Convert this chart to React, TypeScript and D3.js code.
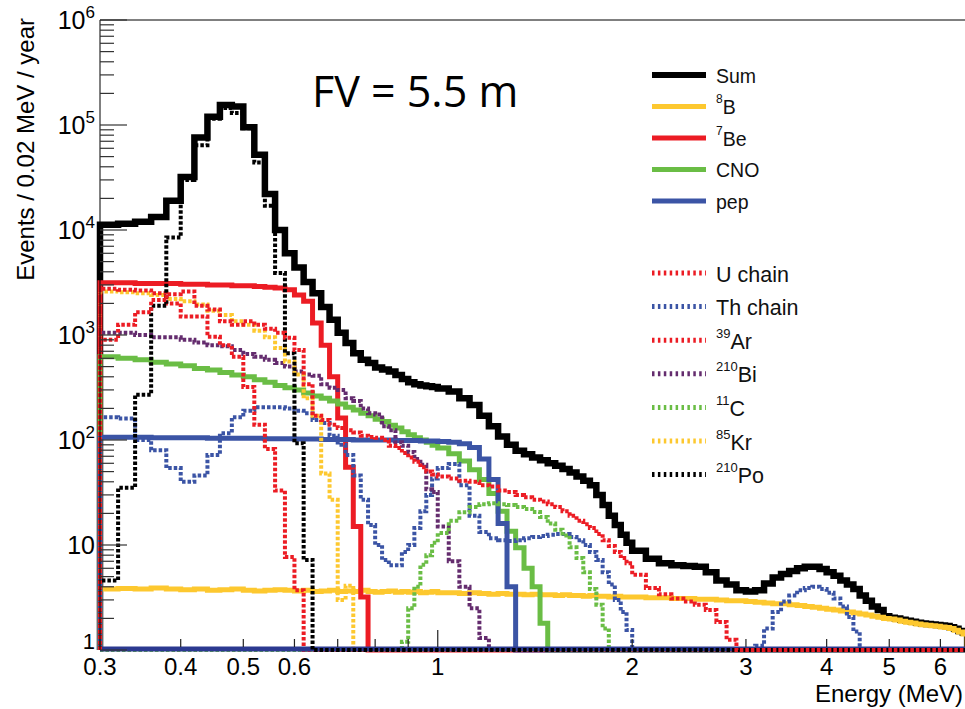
import React from "react";
import * as d3 from "d3";

const W = 965;
const H = 709;

// Histogram bin edges (MeV): 0.02 MeV bins below 1 MeV, 0.04 MeV up to 2 MeV, 0.1 MeV above
const BIN_EDGES = [
  0.30, 0.32, 0.34, 0.36, 0.38, 0.40, 0.42, 0.44, 0.46, 0.48, 0.50, 0.52, 0.54, 0.56, 0.58, 0.60, 0.62, 0.64, 0.66, 0.68,
  0.70, 0.72, 0.74, 0.76, 0.78, 0.80, 0.82, 0.84, 0.86, 0.88, 0.90, 0.92, 0.94, 0.96, 0.98,
  1.00, 1.04, 1.08, 1.12, 1.16, 1.20, 1.24, 1.28, 1.32, 1.36, 1.40, 1.44, 1.48, 1.52, 1.56, 1.60, 1.64, 1.68, 1.72, 1.76,
  1.80, 1.84, 1.88, 1.92, 1.96,
  2.0, 2.1, 2.2, 2.3, 2.4, 2.5, 2.6, 2.7, 2.8, 2.9, 3.0, 3.1, 3.2, 3.3, 3.4, 3.5, 3.6, 3.7, 3.8, 3.9, 4.0, 4.1, 4.2, 4.3,
  4.4, 4.5, 4.6, 4.7, 4.8, 4.9, 5.0, 5.1, 5.2, 5.3, 5.4, 5.5, 5.6, 5.7, 5.8, 5.9, 6.0, 6.1, 6.2, 6.3, 6.4, 6.5, 6.6,
];

// Events / 0.02 MeV / year per bin (missing trailing bins = 0)
const SUM = [
  11200, 11500, 12000, 13300, 19000, 32000, 76000, 120000, 155000, 150000, 95000, 52000, 22000, 10000, 6000, 4400, 3200, 2500, 1850, 1400,
  1050, 840, 670, 580, 540, 490, 470, 450, 415, 380, 355, 340, 330, 325, 320,
  310, 290, 250, 215, 170, 135, 108, 90, 79, 73, 68, 64, 60, 57, 53, 49, 45, 41, 37, 30, 24, 19, 15.5, 12.5, 10.5,
  8.8, 7.4, 6.7, 6.4, 6.3, 6.2, 5.5, 4.6, 4.2, 3.7, 3.6, 3.7, 4.3, 4.9, 5.3, 5.65, 6.0, 6.2, 6.2, 5.9,
  5.5, 5.1, 4.6, 4.2, 3.8, 3.3, 2.95, 2.6, 2.4, 2.1, 2.03, 1.99, 1.94, 1.9, 1.86, 1.82, 1.79, 1.77, 1.75, 1.73,
  1.71, 1.69, 1.65, 1.59, 1.52, 1.46,
];
const B8 = [
  3.8, 3.85, 3.8, 3.9, 3.8, 3.75, 3.8, 3.7, 3.75, 3.8, 3.7, 3.65, 3.7, 3.75, 3.7, 3.65, 3.7, 3.6, 3.65, 3.7,
  3.6, 3.65, 3.6, 3.7, 3.6, 3.55, 3.6, 3.65, 3.55, 3.6, 3.55, 3.6, 3.5, 3.55, 3.6,
  3.5, 3.5, 3.45, 3.5, 3.45, 3.4, 3.45, 3.4, 3.4, 3.35, 3.4, 3.35, 3.35, 3.3, 3.35, 3.3, 3.3, 3.25, 3.3, 3.25,
  3.25, 3.2, 3.25, 3.2, 3.2,
  3.2, 3.15, 3.15, 3.1, 3.1, 3.05, 3.05, 3.0, 2.95, 2.95, 2.9, 2.85, 2.8, 2.75, 2.75, 2.7, 2.65, 2.6, 2.55, 2.5,
  2.45, 2.4, 2.35, 2.3, 2.25, 2.2, 2.15, 2.1, 2.05, 2.0, 1.97, 1.93, 1.88, 1.84, 1.81, 1.77, 1.74, 1.72, 1.7, 1.68,
  1.66, 1.64, 1.6, 1.54, 1.48, 1.42,
];
const BE7 = [
  3150, 3150, 3100, 3100, 3100, 3050, 3050, 3000, 3000, 2950, 2950, 2900, 2850, 2800, 2700, 2400, 2100, 1300, 800, 400,
  162, 55, 15, 3.2,
];
const CNO = [
  620, 600, 580, 550, 530, 510, 480, 465, 440, 415, 400, 375, 355, 330, 315, 300, 280, 262, 250, 235,
  220, 205, 193, 180, 170, 158, 150, 138, 130, 120, 112, 105, 100, 95, 89,
  84, 74, 63, 52, 42, 31, 21, 13.5, 9.4, 6.0, 4.0, 1.8,
];
const PEP = [
  106, 106, 106, 105, 105, 105, 105, 104, 104, 104, 104, 104, 103, 103, 103, 102, 102, 102, 101, 101,
  101, 101, 100, 100, 100, 100, 100, 100, 99, 99, 99, 99, 98, 98, 98,
  97, 95, 92, 85, 66, 42, 16, 4,
];
const U_CHAIN = [
  900, 1250, 1650, 2150, 2450, 2600, 1900, 1750, 1350, 1250, 1350, 1250, 1150, 1050, 940, 720, 340, 170, 155, 140,
  130, 124, 118, 110, 107, 105, 100, 88, 84, 75, 68, 62, 55, 50, 47,
  45, 43, 41, 40, 37, 36, 33, 32, 30, 28.5, 27, 26, 24.5, 23, 21, 19, 17, 15.8, 14.5, 12.7, 11.1, 9.8, 8.6, 7.5, 6.7,
  5.2, 3.9, 3.4, 3.1, 2.9, 2.7, 2.4, 1.85, 1.25,
];
const TH_CHAIN = [
  165, 160, 100, 80, 54, 40, 46, 72, 116, 165, 190, 205, 205, 205, 200, 190, 180, 155, 145, 110,
  90, 72, 46, 27, 15.5, 10, 7.2, 6.4, 6.4, 8.6, 10, 14.5, 21, 30, 43,
  54, 59, 37, 19, 13.3, 11.6, 11.1, 10.9, 11.1, 11.6, 11.9, 12.2, 12.5, 12.7, 12.7, 11.9, 11.1, 10, 8.6, 7.2,
  5.5, 4.2, 3, 2.3, 1.55,
  0, 0, 0, 0, 0, 0, 0, 0, 0, 0, 0, 1.1, 1.6, 2.3, 2.9, 3.3, 3.7, 3.9, 4.0, 3.8, 3.5, 3.1, 2.6, 2.06, 1.5,
];
const AR39 = [2750, 2700, 2650, 2500, 2000, 1500, 1500, 960, 800, 620, 320, 140, 82, 33, 7.7, 3.7];
const BI210 = [
  1050, 1050, 1000, 950, 950, 900, 850, 800, 780, 720, 660, 620, 580, 540, 500, 450, 420, 410, 340, 315,
  300, 250, 235, 200, 180, 175, 135, 124, 95, 88, 77, 66, 58, 34, 32,
  15, 7, 4, 2.5, 1.3,
];
const C11 = [
  0, 0, 0, 0, 0, 0, 0, 0, 0, 0, 0, 0, 0, 0, 0, 0, 0, 0, 0, 0,
  0, 0, 0, 0, 0, 0, 0, 0, 0, 1.2, 2.5, 4, 6.5, 8, 10.5,
  13, 17, 20.5, 23, 24.5, 25, 24.5, 24, 23, 22, 20.6, 18.5, 16, 14, 12.3, 9.5, 7.5, 5.5, 3.8, 2.7, 1.6,
];
const KR85 = [
  2600, 2550, 2500, 2400, 2200, 2100, 1950, 1700, 1550, 1350, 1250, 1100, 950, 750, 560, 420, 250, 170, 48, 27,
  3, 4.1,
];
const PO210 = [4.6, 35, 270, 1900, 8500, 30000, 64000, 115000, 145000, 130000, 93000, 44000, 17000, 3900, 670, 93, 7.2];

const X_TICKS = [0.3, 0.4, 0.5, 0.6, 0.7, 0.8, 0.9, 1, 2, 3, 4, 5, 6];
const X_LABELS = [0.3, 0.4, 0.5, 0.6, 1, 2, 3, 4, 5, 6];
const Y_DECADES = [0, 1, 2, 3, 4, 5, 6];

const YELLOW = "#fdc82f";
const RED = "#ec1c24";
const GREEN = "#6abd45";
const BLUE = "#3b54a5";
const PURPLE = "#642c6e";
const NAVY = "#2b3990";

const FONT = "'Liberation Sans', Arial, Helvetica, sans-serif";

const x = d3.scaleLog().domain([0.3, 6.55]).range([100, 965]);
const y = d3.scaleLog().domain([1, 1e6]).range([650, 20]);

const line = d3
  .line<[number, number]>()
  .x((d) => d[0])
  .y((d) => d[1]);

function histPath(vals: number[]): string {
  const n = BIN_EDGES.length - 1;
  const yb = y(1);
  const pts: [number, number][] = [[x(BIN_EDGES[0]), yb]];
  for (let i = 0; i < n; i++) {
    const v = i < vals.length ? vals[i] : 0;
    const yy = v > 1 ? y(v) : yb;
    pts.push([x(BIN_EDGES[i]), yy]);
    pts.push([x(BIN_EDGES[i + 1]), yy]);
  }
  pts.push([x(BIN_EDGES[n]), yb]);
  return line(pts) || "";
}

type Series = { data: number[]; color: string; width: number; dotted: boolean };

const DOT = "3.5 2";

const UNDER: Series[] = [
  { data: SUM, color: "#000", width: 6.5, dotted: false },
  { data: B8, color: YELLOW, width: 5, dotted: false },
  { data: BE7, color: RED, width: 5, dotted: false },
  { data: CNO, color: GREEN, width: 5, dotted: false },
  { data: PEP, color: BLUE, width: 5, dotted: false },
  { data: TH_CHAIN, color: BLUE, width: 4, dotted: true },
  { data: BI210, color: PURPLE, width: 4, dotted: true },
  { data: C11, color: GREEN, width: 4, dotted: true },
  { data: KR85, color: YELLOW, width: 4, dotted: true },
  { data: AR39, color: RED, width: 4, dotted: true },
];
const OVER: Series[] = [
  { data: PO210, color: "#000", width: 4, dotted: true },
  { data: U_CHAIN, color: RED, width: 4, dotted: true },
];

const LEGEND_SOLID = [
  { sup: "", text: "Sum", color: "#000", width: 6 },
  { sup: "8", text: "B", color: YELLOW, width: 5 },
  { sup: "7", text: "Be", color: RED, width: 5 },
  { sup: "", text: "CNO", color: GREEN, width: 5 },
  { sup: "", text: "pep", color: BLUE, width: 5 },
];
const LEGEND_DOTTED = [
  { sup: "", text: "U chain", color: RED },
  { sup: "", text: "Th chain", color: BLUE },
  { sup: "39", text: "Ar", color: RED },
  { sup: "210", text: "Bi", color: PURPLE },
  { sup: "11", text: "C", color: GREEN },
  { sup: "85", text: "Kr", color: YELLOW },
  { sup: "210", text: "Po", color: "#000" },
];

function drawSeries(s: Series, key: string) {
  return (
    <path
      key={key}
      d={histPath(s.data)}
      fill="none"
      stroke={s.color}
      strokeWidth={s.width}
      strokeDasharray={s.dotted ? DOT : undefined}
      strokeLinejoin="miter"
      strokeMiterlimit={4}
    />
  );
}

export default function App() {
  const yTicks: { v: number; major: boolean }[] = [];
  for (let k = 0; k < 6; k++) {
    for (let m = 1; m <= 9; m++) yTicks.push({ v: m * Math.pow(10, k), major: m === 1 });
  }
  yTicks.push({ v: 1e6, major: true });

  return (
    <svg width={W} height={H} style={{ display: "block", position: "absolute", left: 0, top: 0, background: "#fff" }}>
      <defs>
        <clipPath id="plot">
          <rect x={96} y={14} width={W - 96} height={643} />
        </clipPath>
      </defs>
      <rect x={0} y={0} width={W} height={H} fill="#fff" />

      <g clipPath="url(#plot)">
        {UNDER.map((s, i) => drawSeries(s, "u" + i))}
        <line x1={100} x2={W} y1={649} y2={649} stroke={NAVY} strokeWidth={5} />
        {OVER.map((s, i) => drawSeries(s, "o" + i))}
      </g>

      {/* frame */}
      <line x1={100} x2={100} y1={20} y2={650} stroke="#000" strokeWidth={1} />
      <line x1={100} x2={W} y1={20} y2={20} stroke="#000" strokeWidth={1} />

      {/* y ticks */}
      {yTicks.map((t, i) => (
        <line key={"yt" + i} x1={100} x2={100 + (t.major ? 27 : 14)} y1={y(t.v)} y2={y(t.v)} stroke="#333" strokeWidth={1.2} />
      ))}
      {/* x ticks */}
      {X_TICKS.map((t, i) => (
        <line key={"xt" + i} x1={x(t)} x2={x(t)} y1={647} y2={647 - (t === 1 ? 17 : 8)} stroke="#222" strokeWidth={1.2} />
      ))}

      {/* y labels */}
      {Y_DECADES.map((k) => (
        <text
          key={"yl" + k}
          x={95}
          y={y(Math.pow(10, k)) + (k === 0 ? -1 : 9)}
          textAnchor="end"
          fontFamily={FONT}
          fontSize={k === 0 ? 22 : 25}
          fill="#000"
        >
          {k === 0 ? "1" : k === 1 ? "10" : (
            <>
              <tspan>10</tspan>
              <tspan fontSize={17} dy={-11}>{k}</tspan>
            </>
          )}
        </text>
      ))}
      {/* x labels */}
      {X_LABELS.map((t) => (
        <text key={"xl" + t} x={x(t)} y={675} textAnchor="middle" fontFamily={FONT} fontSize={24} fill="#000">
          {String(t)}
        </text>
      ))}

      {/* axis titles */}
      <text x={963} y={702} textAnchor="end" fontFamily={FONT} fontSize={24} fill="#000">Energy (MeV)</text>
      <text transform="translate(34,18) rotate(-90)" textAnchor="end" fontFamily={FONT} fontSize={24} fill="#000">
        Events / 0.02 MeV / year
      </text>

      {/* annotation */}
      <text x={312} y={107} fontFamily="'Open Sans', 'Noto Sans', sans-serif" fontSize={43} fill="#000">FV = 5.5 m</text>

      {/* legend */}
      {LEGEND_SOLID.map((e, i) => {
        const ly = 75 + i * 31.5;
        return (
          <g key={"ls" + i}>
            <line x1={652} x2={706} y1={ly} y2={ly} stroke={e.color} strokeWidth={e.width} />
            <text x={716} y={ly + 7.5} fontFamily={FONT} fontSize={19.5} fill="#111">
              {e.sup ? (
                <>
                  <tspan fontSize={12} dy={-11}>{e.sup}</tspan>
                  <tspan dy={11}>{e.text}</tspan>
                </>
              ) : (
                e.text
              )}
            </text>
          </g>
        );
      })}
      {LEGEND_DOTTED.map((e, i) => {
        const ly = 273 + i * 33.6;
        return (
          <g key={"ld" + i}>
            <line x1={652} x2={706} y1={ly} y2={ly} stroke={e.color} strokeWidth={5} strokeDasharray="2.5 3.4" />
            <text x={716} y={ly + 8.5} fontFamily={FONT} fontSize={21.5} fill="#111">
              {e.sup ? (
                <>
                  <tspan fontSize={13} dy={-11}>{e.sup}</tspan>
                  <tspan dy={11}>{e.text}</tspan>
                </>
              ) : (
                e.text
              )}
            </text>
          </g>
        );
      })}
    </svg>
  );
}
